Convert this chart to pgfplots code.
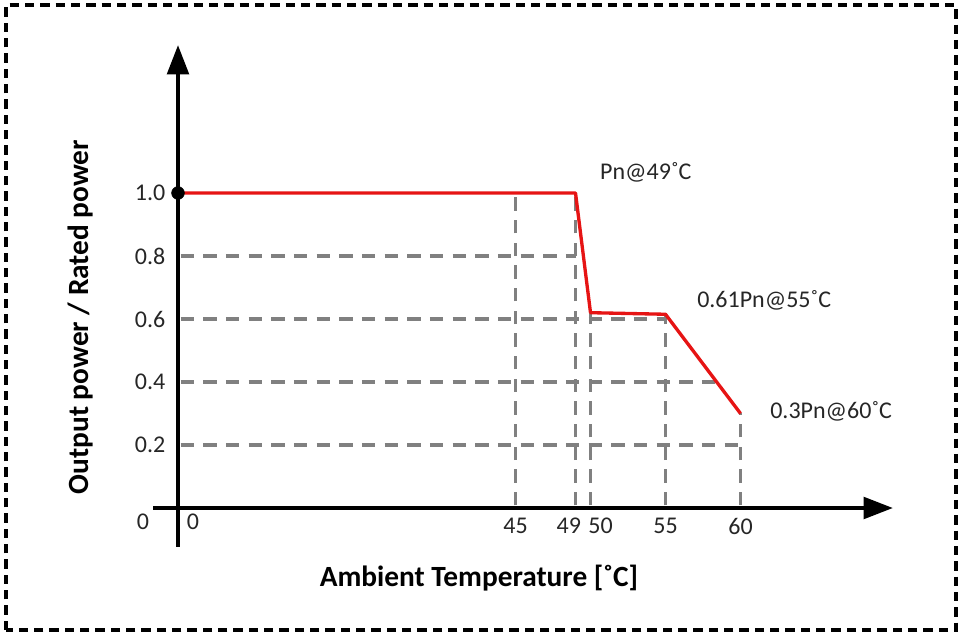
\documentclass[border=0pt]{standalone}
\usepackage{fontspec}
\setmainfont{Carlito}
\usepackage{pgfplots}
\pgfplotsset{compat=1.18}
\usetikzlibrary{arrows.meta}
\definecolor{curvered}{RGB}{230,20,20}
\definecolor{guidegray}{RGB}{128,128,128}
\begin{document}
\begin{tikzpicture}
\path[use as bounding box] (0pt,0pt) rectangle (722.25pt,476.25pt);
\draw[line width=2.4pt, dash pattern=on 7pt off 4.5pt] (4.5pt,3.75pt) rectangle (717pt,472.5pt);
\begin{axis}[
  at={(114.75pt,66pt)}, anchor=south west,
  scale only axis, width=555pt, height=376.5pt,
  clip=false,
  x coord trafo/.code={\pgfmathparse{#1<45 ? #1/2 : #1-22.5}},
  x coord inv trafo/.code={\pgfmathparse{#1<22.5 ? #1*2 : #1+22.5}},
  xmin=-3.3333, xmax=70.1667, ymin=-0.1238, ymax=1.4698,
  axis lines=middle,
  axis line style={line width=3.2pt, -{Triangle[length=22pt,width=16pt]}},
  xtick={45,49,50,55,60},
  xticklabels={45,{49\hspace*{10pt}},{\hspace*{15pt}50},55,60},
  ytick={0.2,0.4,0.6,0.8,1.0},
  yticklabels={0.2,0.4,0.6,0.8,1.0},
  major tick length=0pt,
  tick style={draw=none},
  tick label style={font=\fontsize{18}{21}\selectfont, text=black!85},
  xticklabel style={anchor=north, yshift=-4pt},
  yticklabel style={anchor=east, xshift=-6pt},
  xlabel={\textbf{Ambient Temperature [˚C]}},
  ylabel={\textbf{Output power / Rated power}},
  every axis x label/.style={at={(rel axis cs:0.4405,-0.0618)}, anchor=center, font=\fontsize{22}{26}\selectfont},
  every axis y label/.style={at={(rel axis cs:-0.0986,0.458)}, rotate=90, anchor=center, font=\fontsize{22}{26}\selectfont},
]
% guide lines
\addplot[guidegray, line width=2.6pt, dash pattern=on 10pt off 7pt] coordinates {(0.35,0.8) (49,0.8)};
\addplot[guidegray, line width=2.6pt, dash pattern=on 10pt off 7pt] coordinates {(0.35,0.6) (55,0.6)};
\addplot[guidegray, line width=2.6pt, dash pattern=on 10pt off 7pt] coordinates {(0.35,0.4) (58.4,0.4)};
\addplot[guidegray, line width=2.6pt, dash pattern=on 10pt off 7pt] coordinates {(0.35,0.2) (60,0.2)};
\addplot[guidegray, line width=2.6pt, dash pattern=on 10pt off 7pt] coordinates {(45,0.008) (45,1.0)};
\addplot[guidegray, line width=2.6pt, dash pattern=on 10pt off 7pt] coordinates {(49,0.008) (49,1.0)};
\addplot[guidegray, line width=2.6pt, dash pattern=on 10pt off 7pt] coordinates {(50,0.008) (50,0.62)};
\addplot[guidegray, line width=2.6pt, dash pattern=on 10pt off 7pt] coordinates {(55,0.008) (55,0.615)};
\addplot[guidegray, line width=2.6pt, dash pattern=on 10pt off 7pt] coordinates {(60,0.008) (60,0.3)};
% start point
\addplot[only marks, mark=*, mark size=4.8pt, black] coordinates {(0,1.0)};
% derating curve
\addplot[curvered, line width=2.5pt, line join=round] coordinates {(0,1.0) (49,1.0) (50,0.62) (55,0.615) (60,0.3)};
% annotations
\node[anchor=west, font=\fontsize{18}{21}\selectfont, text=black!85, inner sep=0pt] at (axis cs:50.63,1.067) {Pn@49˚C};
\node[anchor=west, font=\fontsize{18}{21}\selectfont, text=black!85, inner sep=0pt] at (axis cs:57.1,0.660) {0.61Pn@55˚C};
\node[anchor=west, font=\fontsize{18}{21}\selectfont, text=black!85, inner sep=0pt] at (axis cs:61.97,0.308) {0.3Pn@60˚C};
\node[font=\fontsize{18}{21}\selectfont, text=black!85] at (axis cs:-4.67,-0.044) {0};
\node[font=\fontsize{18}{21}\selectfont, text=black!85] at (axis cs:2.0,-0.044) {0};
\end{axis}
\end{tikzpicture}
\end{document}
